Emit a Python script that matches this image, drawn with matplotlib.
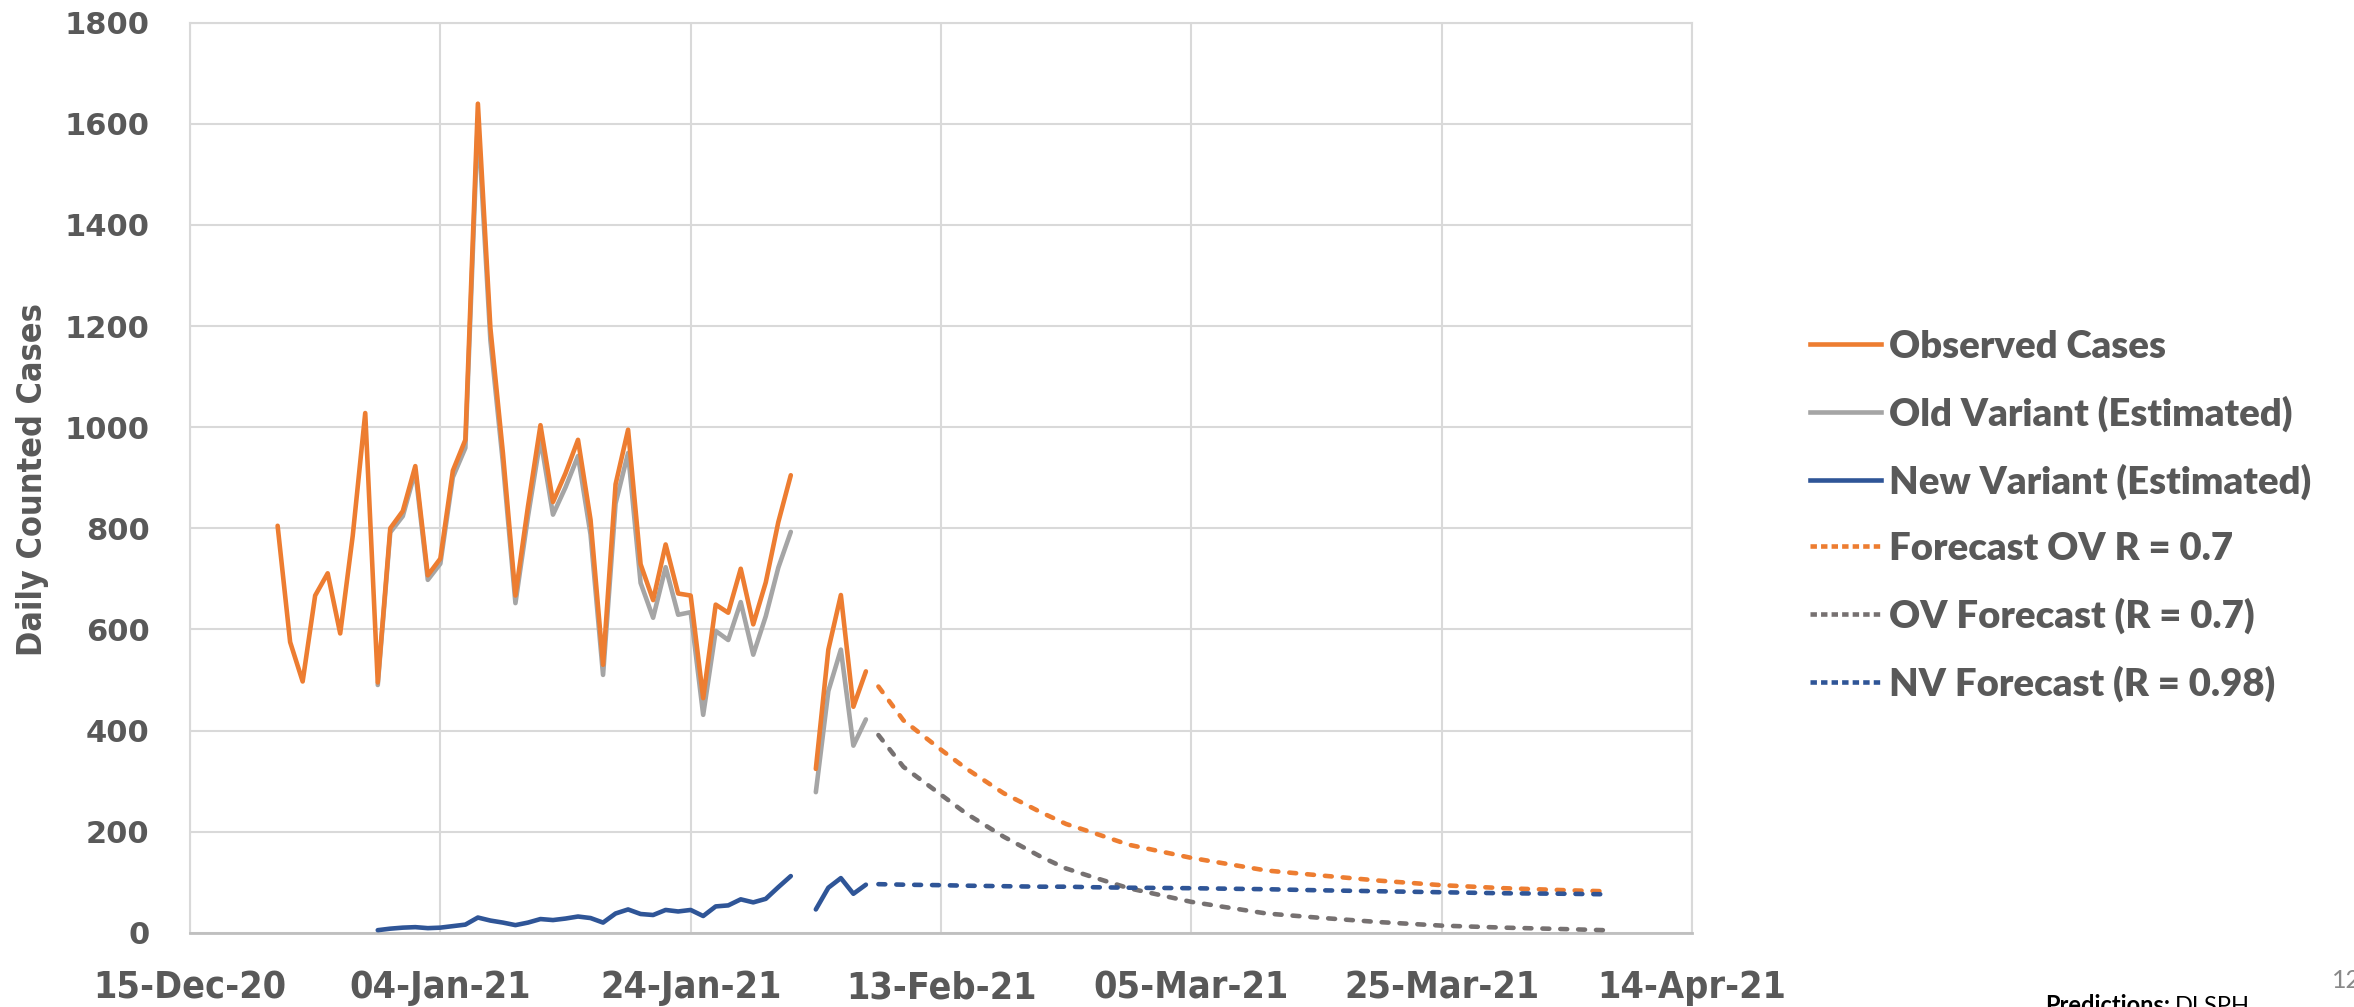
import numpy as np
import matplotlib
matplotlib.use("Agg")
import matplotlib.pyplot as plt
import matplotlib.dates as mdates
from matplotlib.lines import Line2D
from matplotlib import font_manager

# observed data, daily from 22-Dec-20 to 01-Feb-21
obs_start = np.datetime64('2020-12-22')
observed = [805, 575, 497, 667, 711, 592, 785, 1028, 495, 800, 834, 923, 707, 740,
            914, 975, 1640, 1196, 949, 667, 843, 1004, 852, 909, 975, 817, 530, 887,
            995, 729, 658, 768, 671, 667, 464, 649, 633, 720, 610, 693, 812, 905]

# variant estimates, daily from 30-Dec-20 to 01-Feb-21
var_start = np.datetime64('2020-12-30')
old_var = [490, 792, 824, 913, 698, 730, 901, 959, 1610, 1172, 929, 652, 823, 977,
           827, 881, 943, 788, 510, 849, 949, 692, 623, 723, 629, 634, 431, 597,
           579, 654, 550, 626, 722, 793]
new_var = [5, 8, 10, 11, 9, 10, 13, 16, 30, 24, 20, 15, 20, 27, 25, 28, 32, 29,
           20, 38, 46, 37, 35, 45, 42, 45, 33, 52, 54, 66, 60, 67, 90, 112]

# second observed block, 03-Feb-21 to 07-Feb-21
obs2_start = np.datetime64('2021-02-03')
observed2 = [324, 560, 668, 447, 517]
old_var2 = [278, 478, 560, 370, 422]
new_var2 = [46, 89, 108, 77, 95]

# forecasts, days after 08-Feb-21
fc_start = np.datetime64('2021-02-08')
fc_days = [0, 2, 5, 7, 10, 13, 15, 17, 20, 25, 31, 35, 40, 45, 50, 55, 58]
fc_total = [487, 420, 362, 325, 276, 238, 215, 199, 174, 148, 123, 114, 103, 94, 88, 84, 82]
fc_old = [391, 328, 273, 236, 190, 150, 127, 111, 88, 61, 38, 30, 21, 14, 10, 7, 5]
fc_new = [96, 95, 94, 93, 92, 91, 91, 90, 89, 88, 86, 84, 82, 80, 78, 77, 76]

labels = ['Observed Cases', 'Old Variant (Estimated)', 'New Variant (Estimated)',
          'Forecast OV R = 0.7', 'OV Forecast (R = 0.7)', 'NV Forecast (R = 0.98)']

orange = '#ED7D31'
grey = '#A5A5A5'
blue = '#2F5597'
dgrey = '#767171'
txt = '#595959'

# narrow font for the date labels, if a condensed face is around
cond = font_manager.FontProperties(family='DejaVu Sans', stretch='condensed', weight='bold')
has_cond = 'ondensed' in font_manager.findfont(cond)
xfs = 27 if has_cond else 23.5
yl_fs = 24.5 if has_cond else 20


def days(start, n):
    return start + np.arange(n).astype('timedelta64[D]')


d_obs = days(obs_start, len(observed))
d_var = days(var_start, len(old_var))
d_obs2 = days(obs2_start, len(observed2))
d_fc = fc_start + np.array(fc_days).astype('timedelta64[D]')

fig = plt.figure(figsize=(23.54, 10.07), dpi=100)
ax = fig.add_axes([190/2354, 74.3/1007, 1502/2354, 909.9/1007])

lw = 3.3
dash = (0, (1.5, 2.4))
kw = dict(lw=lw, solid_capstyle='round', solid_joinstyle='round')
dkw = dict(lw=lw, ls=dash, dash_capstyle='round', zorder=3)
ax.plot(d_obs, observed, color=orange, zorder=4, **kw)
ax.plot(d_var, old_var, color=grey, zorder=3, **kw)
ax.plot(d_var, new_var, color=blue, zorder=3, **kw)
ax.plot(d_obs2, observed2, color=orange, zorder=4, **kw)
ax.plot(d_obs2, old_var2, color=grey, zorder=3, **kw)
ax.plot(d_obs2, new_var2, color=blue, zorder=3, **kw)
ax.plot(d_fc, fc_total, color=orange, **dkw)
ax.plot(d_fc, fc_old, color=dgrey, **dkw)
ax.plot(d_fc, fc_new, color=blue, **dkw)

ax.set_ylim(0, 1800)
ax.set_yticks(np.arange(0, 1801, 200))
x0 = np.datetime64('2020-12-15')
x1 = np.datetime64('2021-04-14')
ax.set_xlim(x0, x1)
xt = x0 + np.arange(0, 121, 20).astype('timedelta64[D]')
ax.set_xticks(xt)
ax.xaxis.set_major_formatter(mdates.DateFormatter('%d-%b-%y'))

ax.grid(True, color='#D9D9D9', lw=1.5, zorder=0)
ax.set_axisbelow(True)
for s in ['top', 'right', 'left']:
    ax.spines[s].set_color('#D9D9D9')
    ax.spines[s].set_linewidth(1.5)
ax.spines['bottom'].set_color('#BFBFBF')
ax.spines['bottom'].set_linewidth(2)
ax.tick_params(length=0)
ax.tick_params(axis='y', pad=29)
ax.tick_params(axis='x', pad=27)
for t in ax.get_yticklabels():
    t.set_fontfamily('DejaVu Sans')
    t.set_fontweight('bold')
    t.set_fontsize(22)
    t.set_color(txt)
for t in ax.get_xticklabels():
    t.set_fontproperties(font_manager.FontProperties(family='DejaVu Sans', stretch='condensed',
                                                     weight='bold', size=xfs))
    t.set_color(txt)

fig.text(33/2354, 1 - 480/1007, 'Daily Counted Cases', rotation=90, ha='center', va='center',
         fontproperties=font_manager.FontProperties(family='DejaVu Sans', stretch='condensed',
                                                    weight='bold', size=yl_fs),
         color=txt)

hdash = (0, (1.4, 0.9))
handles = [Line2D([], [], color=orange, lw=lw),
           Line2D([], [], color=grey, lw=lw),
           Line2D([], [], color=blue, lw=lw),
           Line2D([], [], color=orange, lw=lw, ls=hdash),
           Line2D([], [], color=dgrey, lw=lw, ls=hdash),
           Line2D([], [], color=blue, lw=lw, ls=hdash)]
leg = fig.legend(handles, labels, loc='center left', bbox_to_anchor=(1810/2354, 1 - 516/1007),
                 frameon=False, prop={'family': 'Lato', 'weight': 'heavy', 'size': 27.5},
                 handlelength=1.87, handletextpad=0.2, labelspacing=0.83, borderpad=0,
                 borderaxespad=0)
for t in leg.get_texts():
    t.set_color(txt)

fig.text(2332/2354, 1 - 988/1007, '12', fontsize=18, color='#898989', family='Lato',
         ha='left', va='baseline')
fig.text(2045/2354, -0.006, 'Predictions:', fontsize=17, fontweight='bold', color='black',
         family='Lato', ha='left', va='baseline')
fig.text(2175/2354, -0.006, 'DLSPH', fontsize=17, color='black', family='Lato',
         ha='left', va='baseline')

fig.savefig('out.png', dpi=100, facecolor='white')
